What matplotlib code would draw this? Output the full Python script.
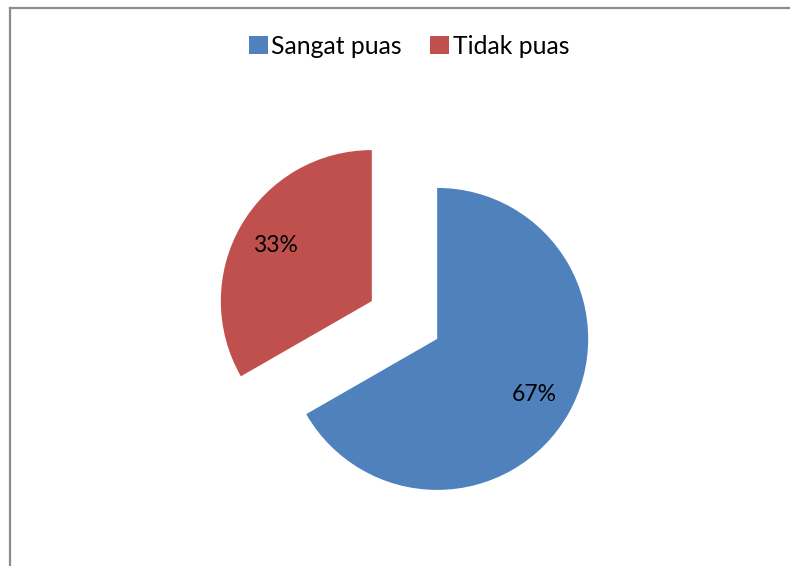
import matplotlib
matplotlib.use("Agg")
import matplotlib.pyplot as plt
from matplotlib.lines import Line2D

categories = ["Sangat puas", "Tidak puas"]
values = [66.7, 33.3]
colors = ["#4F81BD", "#C0504D"]

W, H = 790, 566
fig = plt.figure(figsize=(W / 100, H / 100), dpi=100)
ax = fig.add_axes([0, 0, 1, 1])

wedges, texts, autotexts = ax.pie(
    values, colors=colors, startangle=90, counterclock=False,
    explode=[0.25, 0.25], autopct="%.0f%%", pctdistance=0.74,
    wedgeprops=dict(linewidth=0), radius=1.0,
    textprops=dict(fontsize=16.5, family=["Lato", "DejaVu Sans"], color="black"),
)

R = 151.0
cx, cy = 404.5, H - 320.0
ax.set_xlim(-cx / R, (W - cx) / R)
ax.set_ylim(-cy / R, (H - cy) / R)
ax.set_aspect("equal")
ax.axis("off")

leg = fig.legend(
    wedges, categories, loc="center", bbox_to_anchor=(409 / W, 1 - 46.5 / H),
    ncol=2, frameon=False, prop=dict(family=["Lato", "DejaVu Sans"], size=17.8),
    handlelength=0.75, handleheight=0.75, handletextpad=0.15, columnspacing=1.15,
)

fig.add_artist(Line2D([9.5 / W, 9.5 / W], [0, (H - 7.5) / H], transform=fig.transFigure,
                      color="#8c8c8c", lw=1.6))
fig.add_artist(Line2D([9.5 / W, 1], [(H - 7.5) / H, (H - 7.5) / H], transform=fig.transFigure,
                      color="#8c8c8c", lw=1.6))

fig.savefig("out.png", dpi=100, facecolor="white")
